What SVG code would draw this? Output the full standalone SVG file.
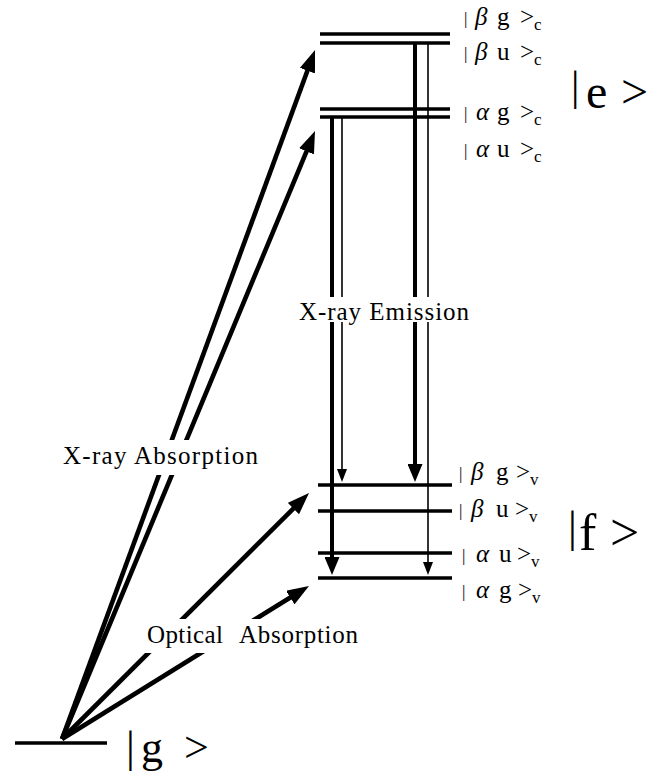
<svg xmlns="http://www.w3.org/2000/svg" width="672" height="779" viewBox="0 0 672 779">
<style>
.lv{stroke:#000;stroke-width:3.6;fill:none}
.ab{stroke:#000;stroke-width:4.6;fill:none}
.tk{stroke:#000;stroke-width:4;fill:none}
.tn{stroke:#000;stroke-width:1.6;fill:none}
.lbl{font-family:"Liberation Serif","DejaVu Serif",serif;font-size:25px;fill:#000}
.st{font-family:"Liberation Serif","DejaVu Serif",serif;font-size:25px;fill:#000}
.gr{font-style:italic}
.bar{font-size:17px}
.sub{font-size:17px}
.big{font-family:"Liberation Serif","DejaVu Serif",serif;fill:#000}
</style>
<defs>
<marker id="mBig" markerUnits="userSpaceOnUse" viewBox="0 0 22 16" markerWidth="22" markerHeight="16" refX="10" refY="8" orient="auto"><path d="M0,0 L22,8 L0,16 Z" fill="#000"/></marker>
<marker id="mTk" markerUnits="userSpaceOnUse" viewBox="0 0 18 15" markerWidth="18" markerHeight="15" refX="8" refY="7.5" orient="auto"><path d="M0,0 L18,7.5 L0,15 Z" fill="#000"/></marker>
<marker id="mTn" markerUnits="userSpaceOnUse" viewBox="0 0 13 10" markerWidth="13" markerHeight="10" refX="5" refY="5" orient="auto"><path d="M0,0 L13,5 L0,10 Z" fill="#000"/></marker>
</defs>
<rect width="672" height="779" fill="#fff"/>

<g id="connectors">
<line class="ab" x1="62" y1="739" x2="310.9" y2="61.3" marker-end="url(#mBig)"/>
<line class="ab" x1="62" y1="739" x2="310.4" y2="142.1" marker-end="url(#mBig)"/>
<line class="ab" x1="62" y1="739" x2="300.5" y2="501.5" marker-end="url(#mBig)"/>
<line class="ab" x1="62" y1="739" x2="298.8" y2="592.3" marker-end="url(#mBig)"/>
<line class="tk" x1="415" y1="43" x2="415" y2="472" marker-end="url(#mTk)"/>
<line class="tn" x1="428" y1="43" x2="428" y2="567" marker-end="url(#mTn)"/>
<line class="tk" x1="332" y1="117" x2="332" y2="565" marker-end="url(#mTk)"/>
<line class="tn" x1="342" y1="117" x2="342" y2="474" marker-end="url(#mTn)"/>
</g>

<g id="level-beta-c">
<line class="lv" x1="320" y1="34" x2="450" y2="34"/>
<line class="lv" x1="320" y1="43" x2="450" y2="43"/>
<text class="st" y="25"><tspan class="bar" x="464" dy="-1">|</tspan><tspan class="gr" x="475" dy="1">β</tspan><tspan x="497">g</tspan><tspan x="520">&gt;</tspan><tspan class="sub" x="534" dy="5">c</tspan></text>
<text class="st" y="60"><tspan class="bar" x="464" dy="-1">|</tspan><tspan class="gr" x="475" dy="1">β</tspan><tspan x="497">u</tspan><tspan x="520">&gt;</tspan><tspan class="sub" x="534" dy="5">c</tspan></text>
</g>

<g id="level-alpha-c">
<line class="lv" x1="320" y1="109" x2="450" y2="109"/>
<line class="lv" x1="320" y1="117" x2="450" y2="117"/>
<text class="st" y="120"><tspan class="bar" x="464" dy="-1">|</tspan><tspan class="gr" x="476" dy="1">α</tspan><tspan x="497">g</tspan><tspan x="520">&gt;</tspan><tspan class="sub" x="534" dy="5">c</tspan></text>
<text class="st" y="157"><tspan class="bar" x="464" dy="-1">|</tspan><tspan class="gr" x="476" dy="1">α</tspan><tspan x="497">u</tspan><tspan x="520">&gt;</tspan><tspan class="sub" x="534" dy="5">c</tspan></text>
</g>

<g id="state-e">
<text class="big"><tspan x="571" y="100" font-size="42">|</tspan><tspan x="586" y="108" font-size="48">e</tspan><tspan x="621" y="108" font-size="48">&gt;</tspan></text>
</g>

<g id="level-f">
<line class="lv" x1="318" y1="485" x2="452" y2="485"/>
<line class="lv" x1="318" y1="511" x2="452" y2="511"/>
<line class="lv" x1="318" y1="553" x2="452" y2="553"/>
<line class="lv" x1="318" y1="578" x2="452" y2="578"/>
<text class="st" y="480"><tspan class="bar" x="459" dy="-1">|</tspan><tspan class="gr" x="471" dy="1">β</tspan><tspan x="496">g</tspan><tspan x="516">&gt;</tspan><tspan class="sub" x="530" dy="5">v</tspan></text>
<text class="st" y="517"><tspan class="bar" x="459" dy="-1">|</tspan><tspan class="gr" x="471" dy="1">β</tspan><tspan x="496">u</tspan><tspan x="515">&gt;</tspan><tspan class="sub" x="529" dy="5">v</tspan></text>
<text class="st" y="562"><tspan class="bar" x="462" dy="-1">|</tspan><tspan class="gr" x="476" dy="1">α</tspan><tspan x="499">u</tspan><tspan x="517">&gt;</tspan><tspan class="sub" x="531" dy="5">v</tspan></text>
<text class="st" y="598"><tspan class="bar" x="462" dy="-1">|</tspan><tspan class="gr" x="476" dy="1">α</tspan><tspan x="499">g</tspan><tspan x="518">&gt;</tspan><tspan class="sub" x="532" dy="5">v</tspan></text>
</g>

<g id="state-f">
<text class="big"><tspan x="568" y="542" font-size="44">|</tspan><tspan x="579" y="550" font-size="52">f</tspan><tspan x="610" y="550" font-size="52">&gt;</tspan></text>
</g>

<g id="state-g">
<line class="lv" x1="15" y1="743" x2="107" y2="743" stroke-width="3.2"/>
<text class="big"><tspan x="126" y="762" font-size="44">|</tspan><tspan x="141" y="762" font-size="44">g</tspan><tspan x="184" y="762" font-size="44">&gt;</tspan></text>
</g>

<g id="label-xray-absorption">
<rect x="58" y="440" width="204" height="35" fill="#fff"/>
<text class="lbl" x="63" y="464" textLength="195" lengthAdjust="spacing">X-ray Absorption</text>
</g>
<g id="label-optical-absorption">
<rect x="143" y="619" width="219" height="34" fill="#fff"/>
<text class="lbl" y="643"><tspan x="147" textLength="76" lengthAdjust="spacing">Optical</tspan><tspan x="239" textLength="119" lengthAdjust="spacing">Absorption</tspan></text>
</g>
<g id="label-xray-emission">
<rect x="296" y="297" width="176" height="25" fill="#fff"/>
<text class="lbl" x="299" y="320" textLength="170" lengthAdjust="spacing">X-ray Emission</text>
</g>
</svg>
